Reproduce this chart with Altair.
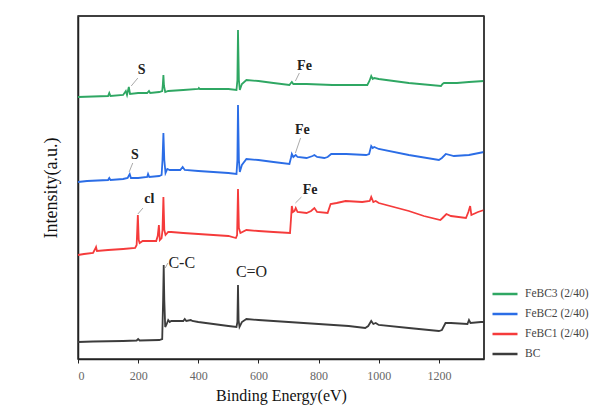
import altair as alt
import pandas as pd

# ---- data (binding energy eV, intensity a.u.) ----
bc_x = [0, 50, 150, 195, 200, 205, 270, 280, 283, 285, 287, 290, 295, 300, 305, 310, 350, 355, 360, 375, 380, 400, 450, 500, 527, 530, 532, 534, 537, 545, 560, 600, 700, 800, 900, 955, 965, 975, 982, 990, 1000, 1100, 1200, 1210, 1222, 1240, 1295, 1300, 1305, 1340, 1350]
bc_y = [17, 17.5, 18, 18.5, 20, 18.5, 19, 20, 59, 94, 59, 32, 35, 39, 37, 38, 38, 40, 38, 39, 38, 37, 35, 33, 32, 37, 74, 39, 32, 37, 40, 39, 37, 35, 33, 31, 33, 38, 35, 36, 34, 31, 28, 29, 36, 36, 35, 39, 36, 37, 37]

fe1_x = [0, 20, 50, 57, 60, 63, 100, 150, 190, 195, 199, 202, 205, 215, 260, 265, 269, 272, 278, 281, 284, 287, 291, 300, 310, 350, 400, 450, 500, 525, 529, 532, 535, 540, 560, 600, 650, 705, 708, 711, 715, 720, 724, 730, 760, 775, 786, 795, 830, 840, 860, 890, 945, 970, 975, 982, 990, 1000, 1100, 1150, 1205, 1212, 1225, 1240, 1290, 1298, 1304, 1308, 1330, 1350]
fe1_y = [104, 105, 106, 110, 112, 108, 109, 110, 111, 114, 144, 119, 116, 118, 118, 123, 134, 119, 121, 129, 162, 129, 124, 127, 127, 126, 125, 124, 123, 121, 124, 170, 131, 126, 129, 128, 127, 126, 139, 153, 147, 148, 151, 147, 146, 148, 151, 147, 146, 155, 156, 158, 157, 158, 162, 157, 158, 156, 148, 143, 139, 141, 145, 143, 141, 147, 153, 144, 147, 149]

fe2_x = [0, 30, 100, 104, 108, 150, 165, 172, 176, 200, 230, 233, 237, 270, 278, 281, 284, 287, 291, 297, 305, 340, 348, 355, 400, 450, 500, 527, 530, 532, 535, 538, 545, 560, 600, 650, 703, 708, 711, 716, 724, 730, 760, 780, 786, 795, 819, 830, 842, 892, 958, 968, 975, 980, 985, 1000, 1100, 1200, 1210, 1223, 1250, 1300, 1350]
fe2_y = [177, 178, 179, 181, 179, 180, 181, 185, 181, 181, 182, 185, 182, 183, 184, 199, 226, 199, 186, 190, 189, 189, 192, 189, 188, 187, 186, 185, 199, 254, 199, 187, 194, 200, 199, 197, 195, 201, 205, 202, 204, 202, 201, 203, 204, 202, 201, 202, 205, 205, 204, 205, 213, 211, 212, 210, 204, 199, 201, 205, 203, 204, 207]

fe3_x = [0, 50, 100, 104, 108, 150, 159, 163, 169, 173, 200, 230, 236, 240, 270, 280, 282, 284, 286, 290, 300, 350, 400, 402, 405, 450, 500, 527, 530, 532, 535, 538, 545, 560, 600, 650, 703, 708, 711, 716, 760, 846, 900, 962, 969, 975, 980, 985, 1000, 1100, 1207, 1212, 1217, 1260, 1300, 1350]
fe3_y = [262, 262.5, 263, 266, 263, 264, 268, 264, 272, 265, 266, 266, 268, 266, 267, 268, 274, 284, 273, 267, 268, 269, 270, 271, 270, 270, 270, 269, 279, 329, 279, 269, 275, 279, 278, 276, 274, 276, 277, 275, 275, 274, 274, 274, 278, 283, 280, 281, 280, 276, 273, 275, 276, 276, 277, 278]

series_names = ["FeBC3 (2/40)", "FeBC2 (2/40)", "FeBC1 (2/40)", "BC"]
series_colors = ["#2fa763", "#2b6de6", "#f53b3b", "#3c3c3c"]

# element annotations (bold) and bond annotations (regular)
elem_text = ["S", "S", "cl", "Fe", "Fe", "Fe"]
elem_x = [212, 189, 237, 753, 746, 772]
elem_y = [289, 204, 160, 293, 229, 169]
bond_text = ["C-C", "C=O"]
bond_x = [345, 577]
bond_y = [96, 87]

# leader lines
lead_x = [199, 182, 216, 736, 740, 743, 299]
lead_x2 = [177, 170, 199, 723, 723, 723, 290]
lead_y = [281, 196, 151, 286, 221, 162, 96]
lead_y2 = [273, 187, 145, 278, 206, 156, 91]

X_MIN, X_MAX = 0, 1350
Y_MIN, Y_MAX = 0, 343

frames = []
for name, xs, ys in [(series_names[3], bc_x, bc_y), (series_names[2], fe1_x, fe1_y),
                     (series_names[1], fe2_x, fe2_y), (series_names[0], fe3_x, fe3_y)]:
    frames.append(pd.DataFrame({"energy": xs, "intensity": ys, "series": name}))
df = pd.concat(frames, ignore_index=True)

elem = pd.DataFrame({"label": elem_text, "energy": elem_x, "intensity": elem_y})
bond = pd.DataFrame({"label": bond_text, "energy": bond_x, "intensity": bond_y})
lead = pd.DataFrame({"energy": lead_x, "energy2": lead_x2, "intensity": lead_y, "intensity2": lead_y2})
box_right = pd.DataFrame({"energy": [X_MAX]})
box_top = pd.DataFrame({"intensity": [Y_MAX]})

xscale = alt.Scale(domain=[X_MIN, X_MAX], nice=False, zero=False)
yscale = alt.Scale(domain=[Y_MIN, Y_MAX], nice=False)

xaxis = alt.Axis(
    title="Binding Energy(eV)",
    values=list(range(0, 1301, 100)),
    labelExpr="datum.value % 200 == 0 ? datum.label : ''",
    format="d",
    grid=False,
    tickSize=4,
    tickColor="#222",
    domainColor="#222",
    domainWidth=1.5,
    labelColor="#666",
    labelFont="Liberation Serif",
    labelFontSize=12,
    labelPadding=7,
    titleFont="Liberation Serif",
    titleFontSize=16,
    titleFontWeight="normal",
    titleColor="#111",
    titlePadding=6,
)
yaxis = alt.Axis(
    title="Intensity(a.u.)",
    labels=False,
    ticks=False,
    grid=False,
    domainColor="#222",
    domainWidth=1.5,
    titleFont="Liberation Serif",
    titleFontSize=18,
    titleFontWeight="normal",
    titleColor="#111",
    titlePadding=18,
)

lines = alt.Chart(df).mark_line(strokeWidth=1.8).encode(
    x=alt.X("energy:Q", scale=xscale, axis=xaxis),
    y=alt.Y("intensity:Q", scale=yscale, axis=yaxis),
    color=alt.Color(
        "series:N",
        scale=alt.Scale(domain=series_names, range=series_colors),
        legend=alt.Legend(
            title=None,
            orient="none",
            legendX=413,
            legendY=264,
            symbolType="stroke",
            symbolSize=625,
            symbolStrokeWidth=2.5,
            rowPadding=-13.5,
            labelFont="Liberation Serif",
            labelFontSize=11.5,
            labelColor="#444",
            labelOffset=6,
            padding=0,
        ),
    ),
    detail="series:N",
)

right_edge = alt.Chart(box_right).mark_rule(color="#333333", strokeWidth=1.5).encode(
    x="energy:Q"
)
top_edge = alt.Chart(box_top).mark_rule(color="#333333", strokeWidth=1.5).encode(
    y="intensity:Q"
)

leaders = alt.Chart(lead).mark_rule(color="#aaaaaa", strokeWidth=1).encode(
    x="energy:Q", x2="energy2:Q", y="intensity:Q", y2="intensity2:Q"
)

elem_labels = alt.Chart(elem).mark_text(
    font="Liberation Serif", color="#222", fontSize=14, fontWeight="bold"
).encode(x="energy:Q", y="intensity:Q", text="label:N")

bond_labels = alt.Chart(bond).mark_text(
    font="Liberation Serif", color="#222", fontSize=16
).encode(x="energy:Q", y="intensity:Q", text="label:N")

chart = alt.layer(lines, right_edge, top_edge, leaders, elem_labels, bond_labels).properties(
    width=406,
    height=343,
    background="white",
    autosize=alt.AutoSizeParams(type="none"),
    padding={"left": 70, "top": 8, "right": 106, "bottom": 49},
).configure_view(
    stroke="#333333", strokeWidth=1.5
)

chart.save("out.html", embed_options={"renderer": "svg", "actions": False})
